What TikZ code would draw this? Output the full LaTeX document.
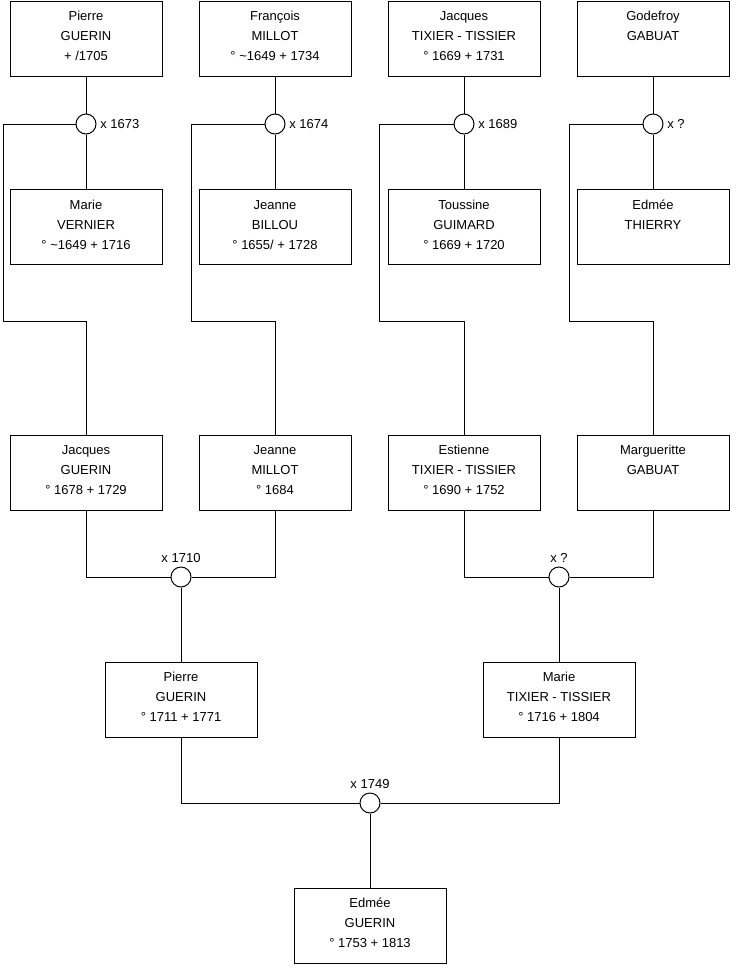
\documentclass[tikz,border=0pt]{standalone}
\usepackage{fontspec}
\setmainfont{Liberation Sans}

\newcommand{\who}[1]{\parbox[c][64pt][t]{150pt}{\centering\strut#1}}

\begin{document}
\begin{tikzpicture}[x=1pt, y=-1pt, line width=1pt,
  every node/.style={font=\fontsize{13}{20}\selectfont},
  person/.style={draw, minimum width=152pt, minimum height=75pt, inner sep=0pt},
  wed/.style={draw, circle, minimum size=20pt, inner sep=0pt}]
  \useasboundingbox (0,0) rectangle (740,975);

  \node[person] (pierre1) at (86,38.5) {\who{Pierre\\GUERIN\\+ /1705}};
  \node[person] (francois) at (275,38.5) {\who{François\\MILLOT\\° \textasciitilde1649 + 1734}};
  \node[person] (jacques1) at (464,38.5) {\who{Jacques\\TIXIER - TISSIER\\° 1669 + 1731}};
  \node[person] (godefroy) at (653,38.5) {\who{Godefroy\\GABUAT}};

  \node[wed, label=east:x 1673] (m1673) at (86,124) {};
  \node[wed, label=east:x 1674] (m1674) at (275,124) {};
  \node[wed, label=east:x 1689] (m1689) at (464,124) {};
  \node[wed, label=east:x ?] (mgabuat) at (653,124) {};

  \node[person] (marie1) at (86,227) {\who{Marie\\VERNIER\\° \textasciitilde1649 + 1716}};
  \node[person] (jeanne1) at (275,227) {\who{Jeanne\\BILLOU\\° 1655/ + 1728}};
  \node[person] (toussine) at (464,227) {\who{Toussine\\GUIMARD\\° 1669 + 1720}};
  \node[person] (edmee1) at (653,227) {\who{Edmée\\THIERRY}};

  \node[person] (jacques2) at (86,472.5) {\who{Jacques\\GUERIN\\° 1678 + 1729}};
  \node[person] (jeanne2) at (275,472.5) {\who{Jeanne\\MILLOT\\° 1684}};
  \node[person] (estienne) at (464,472.5) {\who{Estienne\\TIXIER - TISSIER\\° 1690 + 1752}};
  \node[person] (marguerite) at (653,472.5) {\who{Margueritte\\GABUAT}};

  \node[wed, label=above:x 1710] (m1710) at (181,577) {};
  \node[wed, label=above:x ?] (mtixier) at (559,577) {};

  \node[person] (pierre2) at (181,699.5) {\who{Pierre\\GUERIN\\° 1711 + 1771}};
  \node[person] (marie2) at (559,699.5) {\who{Marie\\TIXIER - TISSIER\\° 1716 + 1804}};

  \node[wed, label=above:x 1749] (m1749) at (370,803) {};

  \node[person] (edmee2) at (370,925.5) {\who{Edmée\\GUERIN\\° 1753 + 1813}};

  \draw (pierre1) -- (m1673) -- (marie1);
  \draw (francois) -- (m1674) -- (jeanne1);
  \draw (jacques1) -- (m1689) -- (toussine);
  \draw (godefroy) -- (mgabuat) -- (edmee1);

  \draw (m1673.west) -| (3,321) -| (jacques2.north);
  \draw (m1674.west) -| (191,321) -| (jeanne2.north);
  \draw (m1689.west) -| (379,321) -| (estienne.north);
  \draw (mgabuat.west) -| (569,321) -| (marguerite.north);

  \draw (jacques2.south) |- (m1710.west);
  \draw (m1710.east) -| (jeanne2.south);
  \draw (estienne.south) |- (mtixier.west);
  \draw (mtixier.east) -| (marguerite.south);
  \draw (m1710) -- (pierre2);
  \draw (mtixier) -- (marie2);

  \draw (pierre2.south) |- (m1749.west);
  \draw (m1749.east) -| (marie2.south);
  \draw (m1749) -- (edmee2);
\end{tikzpicture}
\end{document}
